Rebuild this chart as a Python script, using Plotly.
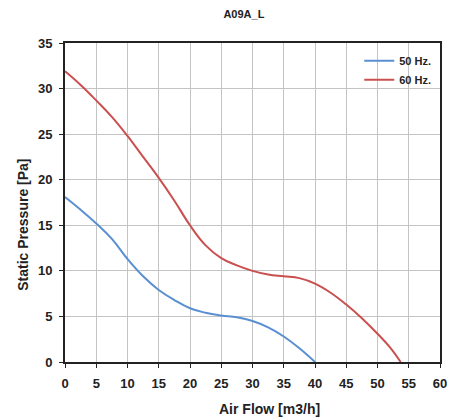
import plotly.graph_objects as go

x_50 = [0, 2.5, 5, 7.5, 10, 12.5, 15, 17.5, 20, 22.5, 25, 27.5, 30, 32.5, 35, 37.5, 40]
y_50 = [18.1, 16.7, 15.2, 13.5, 11.3, 9.4, 7.9, 6.8, 5.9, 5.4, 5.1, 4.9, 4.5, 3.8, 2.8, 1.5, 0]

x_60 = [0, 2.5, 5, 7.5, 10, 12.5, 15, 17.5, 20, 22.5, 25, 27.5, 30, 32.5, 35, 37.5, 40, 42.5, 45, 47.5, 50, 52, 53.7]
y_60 = [31.9, 30.4, 28.7, 26.9, 24.8, 22.5, 20.2, 17.7, 15.0, 12.8, 11.4, 10.6, 10.0, 9.6, 9.4, 9.2, 8.6, 7.6, 6.3, 4.8, 3.1, 1.6, 0]

x_ticks = list(range(0, 61, 5))
y_ticks = list(range(0, 36, 5))

fig = go.Figure()
fig.add_trace(go.Scatter(x=x_50, y=y_50, mode="lines", name="50 Hz.",
                         line=dict(color="#5a8fd2", width=2, shape="spline", smoothing=1.2)))
fig.add_trace(go.Scatter(x=x_60, y=y_60, mode="lines", name="60 Hz.",
                         line=dict(color="#c9504e", width=2, shape="spline", smoothing=1.2)))

font_family = "Liberation Sans, Arial, sans-serif"
fig.update_layout(
    width=459, height=417,
    margin=dict(l=65, r=19, t=43, b=55, autoexpand=False),
    paper_bgcolor="white", plot_bgcolor="white",
    title=dict(text="<b>A09A_L</b>", xref="paper", x=0.477, xanchor="center", y=0.975, yanchor="top",
               font=dict(family=font_family, size=11, color="#222")),
    font=dict(family=font_family, color="#222"),
    legend=dict(x=0.99, y=0.99, xanchor="right", yanchor="top", bgcolor="rgba(255,255,255,0)",
                font=dict(family=font_family, size=11, color="#222", weight="bold"),
                itemwidth=30, tracegroupgap=0),
    showlegend=True,
    annotations=[
        dict(text="<b>Air Flow [m3/h]</b>", x=0.544, y=-0.148, xref="paper", yref="paper",
             xanchor="center", yanchor="middle", showarrow=False,
             font=dict(family=font_family, size=14, color="#222")),
        dict(text="<b>Static Pressure [Pa]</b>", x=-0.114, y=0.431, xref="paper", yref="paper",
             xanchor="center", yanchor="middle", showarrow=False, textangle=-90,
             font=dict(family=font_family, size=14, color="#222")),
    ],
)
fig.update_xaxes(range=[0, 60], tickvals=x_ticks, ticktext=[str(v) for v in x_ticks],
                 showgrid=True, gridcolor="#c4c4c4", gridwidth=1, automargin=False,
                 showline=True, linecolor="#222", linewidth=2, mirror=True,
                 ticks="outside", ticklen=4, tickcolor="#222", zeroline=False,
                 ticklabelstandoff=4,
                 tickfont=dict(family=font_family, size=13, weight="bold"))
fig.update_yaxes(range=[0, 35], tickvals=y_ticks, ticktext=[str(v) for v in y_ticks],
                 showgrid=True, gridcolor="#c4c4c4", gridwidth=1, automargin=False,
                 showline=True, linecolor="#222", linewidth=2, mirror=True,
                 ticks="outside", ticklen=4, tickcolor="#222", zeroline=False,
                 ticklabelstandoff=4,
                 tickfont=dict(family=font_family, size=13, weight="bold"))

fig.write_html("out.html", config={"displayModeBar": False},
               post_script="document.body.style.margin='0';")
